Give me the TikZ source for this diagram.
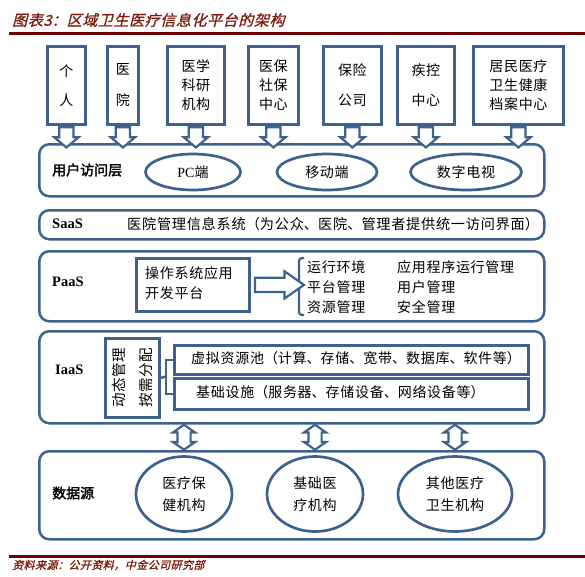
\documentclass[tikz,border=0pt]{standalone}
\usepackage{fontspec}
\setmainfont{Liberation Serif}
\newfontfamily\cjk[LetterSpace=5]{Noto Sans CJK SC}
\newfontfamily\cjkb[FakeBold=2]{Noto Sans CJK SC}
\newfontfamily\cjkt[FakeSlant=0.25,FakeBold=1.2,LetterSpace=4]{Noto Sans CJK SC}
\usetikzlibrary{shapes.geometric,shapes.arrows,calc}
\definecolor{bblue}{RGB}{62,98,142}
\definecolor{dred}{RGB}{110,0,0}
\definecolor{tred}{RGB}{125,30,15}
\newcommand\zlp{\makebox[1em][r]{（}}
\newcommand\zrp{\makebox[1em][l]{）}}
\newcommand\zdn{\makebox[1em][l]{、}}
\newcommand\zcm{\makebox[1em][l]{，}}
\newcommand\zcl{\makebox[1em][l]{：}}
\begin{document}
\begin{tikzpicture}[x=1pt,y=-1pt,
  topbox/.style={draw=bblue, line width=2.8pt, fill=white, anchor=north west, inner sep=0pt, align=center, font=\cjk\fontsize{14}{19}\selectfont},
  layer/.style={draw=bblue, line width=2.5pt, rounded corners=10pt, anchor=north west, inner sep=0pt},
  innerbox/.style={draw=bblue, line width=2.8pt, anchor=north west, inner sep=0pt},
  ell/.style={ellipse, draw=bblue, line width=2.7pt, inner sep=0pt, align=center, font=\cjk\fontsize{14}{22}\selectfont},
  lbl/.style={anchor=west, inner sep=0pt, font=\cjkb\fontsize{14}{17}\selectfont},
  latlbl/.style={anchor=west, inner sep=0pt, font=\rmfamily\bfseries\fontsize{14.5}{17}\selectfont},
  txt/.style={anchor=west, inner sep=0pt, align=left, font=\cjk\fontsize{14}{20}\selectfont},
  conn/.style={draw=bblue, line width=2.5pt},
  harrow/.style={single arrow, draw=bblue, fill=white, line width=2.2pt, inner sep=6pt, single arrow head extend=5pt, single arrow tip angle=100, single arrow head indent=0pt},
  darrow/.style={double arrow, draw=bblue, fill=white, line width=2.2pt, inner sep=5.5pt, double arrow head extend=4.5pt, double arrow tip angle=110, rotate=90}
]
\useasboundingbox (0,0) rectangle (585,576);

% title
\node[anchor=west, inner sep=0pt, text=tred, font=\cjkt\fontsize{15}{17}\selectfont] (title) at (12,20) {图表3\zcl 区域卫生医疗信息化平台的架构};
\coordinate (tl1) at (9,33);
\coordinate (tl2) at (585,33);
\draw[dred, line width=3pt] (tl1) -- (tl2);

% top boxes
\node[topbox, minimum width=38, minimum height=78] (b1) at (46,45) {个\\[10pt]人};
\node[topbox, minimum width=31, minimum height=78] (b2) at (106,45) {医\\[12pt]院};
\node[topbox, minimum width=57, minimum height=78] (b3) at (166,45) {医学\\科研\\机构};
\node[topbox, minimum width=50, minimum height=78] (b4) at (247,45) {医保\\社保\\中心};
\node[topbox, minimum width=58, minimum height=78] (b5) at (322,45) {保险\\[11pt]公司};
\node[topbox, minimum width=57, minimum height=78] (b6) at (396,45) {疾控\\[11pt]中心};
\node[topbox, minimum width=90, minimum height=78] (b7) at (472,45) {居民医疗\\卫生健康\\档案中心};

% layers
\node[layer, minimum width=505, minimum height=52] (L1) at (38,143) {};
\node[layer, minimum width=505, minimum height=29] (L2) at (38,209) {};
\node[layer, minimum width=505, minimum height=70] (L3) at (38,250) {};
\node[layer, minimum width=505, minimum height=92] (L4) at (38,330) {};
\node[layer, minimum width=505, minimum height=88] (L5) at (38,450) {};

% down arrows
\foreach \b in {b1,b2,b3,b4,b5,b6,b7}{
  \node[harrow, rotate=-90, minimum height=19] (a\b) at ($(\b.south)!.5!(\b.south|-L1.north)$) {};
}

% user layer
\node[lbl] (l1) at (52,170) {用户访问层};
\node[ell, minimum width=95, minimum height=36] (E1) at (193,172) {{\rmfamily PC}端};
\node[ell, minimum width=100, minimum height=36] (E2) at (327,172) {移动端};
\node[ell, minimum width=111, minimum height=36] (E3) at (466,172) {数字电视};

% SaaS
\node[latlbl] (l2) at (52,224) {SaaS};
\node[txt, font=\cjk\fontsize{14.2}{20}\selectfont] (s1) at (127,224) {医院管理信息系统\zlp 为公众\zdn 医院\zdn 管理者提供统一访问界面\zrp};

% PaaS
\node[latlbl] (l3) at (52,282) {PaaS};
\node[innerbox, minimum width=113, minimum height=53] (P1) at (135,257) {};
\node[txt] (p1t) at (145,283) {操作系统应用\\开发平台};
\coordinate (brT) at (304,258);
\coordinate (brB) at (304,315);
\coordinate (brM) at (298,285);
\draw[conn, line width=2.2pt, rounded corners=3pt] (brT) -- ++(-5,0) |- (brB);
\node[harrow, minimum height=49, single arrow head extend=6.5pt, single arrow tip angle=70] (pa) at ($(P1.east)!.5!(P1.east-|brM)$) {};
\node[txt] (pl1) at (307,287) {运行环境\\平台管理\\资源管理};
\node[txt] (pl2) at (397,287) {应用程序运行管理\\用户管理\\安全管理};

% IaaS
\node[latlbl] (l4) at (55,370) {IaaS};
\node[innerbox, minimum width=54, minimum height=79] (V) at (104,337) {};
\node[rotate=90, inner sep=0pt, align=center, font=\cjk\fontsize{14.5}{27}\selectfont] (vt) at (V.center) {动态管理\\按需分配};
\node[innerbox, minimum width=354, minimum height=29] (I1) at (173,344) {};
\node[innerbox, minimum width=354, minimum height=31] (I2) at (173,377) {};
\node[txt] (i1t) at (191,358.5) {虚拟资源池\zlp 计算\zdn 存储\zdn 宽带\zdn 数据库\zdn 软件等\zrp};
\node[txt] (i2t) at (196,392.5) {基础设施\zlp 服务器\zdn 存储设备\zdn 网络设备等\zrp};
\coordinate (vj) at (166,376.5);
\draw[conn] (V.east) -- (vj);
\draw[conn] (I1.west) -| (vj) |- (I2.west);

% data source
\node[lbl] (l5) at (52,493) {数据源};
\node[ell, minimum width=96, minimum height=75] (D1) at (184,494) {医疗保\\健机构};
\node[ell, minimum width=96, minimum height=75] (D2) at (315,494) {基础医\\疗机构};
\node[ell, minimum width=114, minimum height=75] (D3) at (455,494) {其他医疗\\卫生机构};

% double arrows
\foreach \d in {D1,D2,D3}{
  \node[darrow, minimum height=25] (d\d) at ($(\d|-L4.south)!.5!(\d|-L5.north)$) {};
}

% source
\coordinate (sl1) at (9,556);
\coordinate (sl2) at (585,556);
\draw[dred, line width=3pt] (sl1) -- (sl2);
\node[anchor=west, inner sep=0pt, text=tred, font=\cjkt\fontsize{11}{13}\selectfont] (src) at (12,565) {资料来源\zcl 公开资料\zcm 中金公司研究部};
\end{tikzpicture}
\end{document}
